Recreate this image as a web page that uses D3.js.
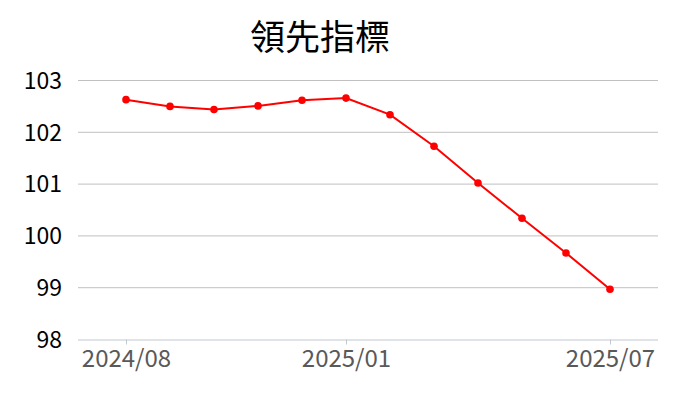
<!DOCTYPE html>
<html><head><meta charset="utf-8">
<script src="https://cdn.jsdelivr.net/npm/d3@7"></script>
<style>body{margin:0;background:#fff;} svg{display:block;}</style>
</head><body>
<script>
const months = ["2024/08","2024/09","2024/10","2024/11","2024/12","2025/01","2025/02","2025/03","2025/04","2025/05","2025/06","2025/07"];
const values = [102.63,102.50,102.44,102.51,102.62,102.66,102.34,101.73,101.02,100.34,99.67,98.97];
const xTickLabels = ["2024/08","2025/01","2025/07"];
const yTicks = [98,99,100,101,102,103];
const title = "領先指標";

(function(){
const W=700,H=400;
const mLeft=78,mRight=658,mTop=80.5,mBottom=339.5;
const svg=d3.select("body").append("svg").attr("width",W).attr("height",H);
const font='"Noto Sans CJK TC","Noto Sans",sans-serif';

const x=d3.scalePoint().domain(months).range([126,610]);
const y=d3.scaleLinear().domain([98,103]).range([mBottom,mTop]);

svg.append("g").selectAll("line").data(yTicks.filter(d=>d>98)).join("line")
  .attr("x1",mLeft).attr("x2",mRight).attr("y1",d=>y(d)).attr("y2",d=>y(d))
  .attr("stroke","#c0c0c0").attr("stroke-width",1);

svg.append("g").selectAll("text").data(yTicks).join("text")
  .attr("x",62).attr("y",d=>y(d)).attr("dy","0.36em").attr("text-anchor","end")
  .attr("font-family",font).attr("font-size",23).attr("fill","#000").text(d=>d);

const xAxis=d3.axisBottom(x).tickValues(xTickLabels).tickSize(5).tickPadding(5);
const gx=svg.append("g").attr("transform",`translate(0,${mBottom})`).call(xAxis);
gx.select(".domain").attr("d",`M${mLeft},0.5H${mRight}`).attr("stroke","#c0c8d2");
gx.selectAll(".tick line").attr("stroke","#c0c8d2");
gx.selectAll(".tick text").attr("font-family",font).attr("font-size",24).attr("fill","#595959");

svg.append("path").datum(values).attr("fill","none").attr("stroke","#ff0000").attr("stroke-width",2)
  .attr("d",d3.line().x((d,i)=>x(months[i])).y(d=>y(d)));
svg.append("g").selectAll("circle").data(values).join("circle")
  .attr("cx",(d,i)=>x(months[i])).attr("cy",d=>y(d)).attr("r",3.8).attr("fill","#ff0000");

svg.append("text").attr("x",320).attr("y",37).attr("dy","0.36em").attr("text-anchor","middle")
  .attr("font-family",font).attr("font-size",35).attr("fill","#000").text(title);
})();
</script>
</body></html>
